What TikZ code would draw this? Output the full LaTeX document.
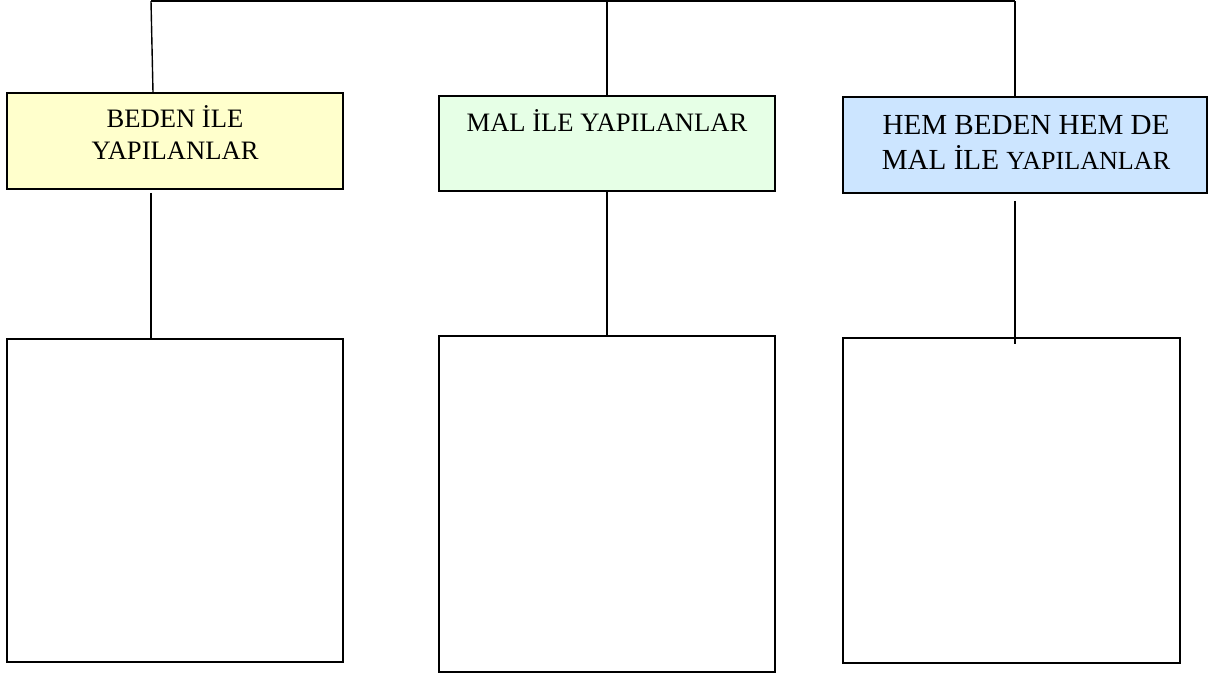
\documentclass[tikz,border=0pt]{standalone}
\usepackage{fontspec}
\setmainfont{Liberation Serif}
\definecolor{boxyellow}{HTML}{FFFFCC}
\definecolor{boxgreen}{HTML}{E6FFE6}
\definecolor{boxblue}{HTML}{CCE5FF}
\begin{document}
\begin{tikzpicture}[x=1pt,y=-1pt,
  box/.style={draw=black,line width=1.6pt,inner sep=0pt,anchor=center},
  txt/.style={inner sep=0pt,anchor=base,align=center,text=black},
  conn/.style={draw=black,line width=1.4pt}]
\useasboundingbox[fill=white] (0,0) rectangle (1211,674);
% top boxes
\node[box,fill=boxyellow,minimum width=336pt,minimum height=96pt] (b1) at (175,141) {};
\node[box,fill=boxgreen,minimum width=336pt,minimum height=95pt] (b2) at (607,143.5) {};
\node[box,fill=boxblue,minimum width=364pt,minimum height=96pt] (b3) at (1025,145) {};
% bottom boxes
\node[box,fill=white,minimum width=336pt,minimum height=323pt] (c1) at (175,500.5) {};
\node[box,fill=white,minimum width=336pt,minimum height=336pt] (c2) at (607,504) {};
\node[box,fill=white,minimum width=337pt,minimum height=325pt] (c3) at (1011.5,500.5) {};
% texts
\node[txt,font=\fontsize{26.6}{32}\selectfont] (t1a) at (175,128) {BEDEN İLE};
\node[txt,font=\fontsize{26.6}{32}\selectfont] (t1b) at (175,160) {YAPILANLAR};
\node[txt,font=\fontsize{26.6}{32}\selectfont] (t2) at (607,132) {MAL İLE YAPILANLAR};
\node[txt,font=\fontsize{29.1}{35}\selectfont] (t3a) at (1026,135) {HEM BEDEN HEM DE};
\node[txt,font=\fontsize{29.1}{35}\selectfont] (t3b) at (1026,170) {MAL İLE {\fontsize{26.1}{35}\selectfont YAPILANLAR}};
% connector coordinates
\coordinate (k1) at (151,1);
\coordinate (k2) at (607,1);
\coordinate (k3) at (1015,1);
\coordinate (d1) at (151,193);
\coordinate (d3) at (1015,201);
\coordinate (e3) at (1015,344);
% connectors
\draw[conn] (k1) -- (k3);
\draw[conn] (k1) -- ([xshift=-22pt]b1.north);
\draw[conn] (k2) -- (b2.north);
\draw[conn] (k3) -- ([xshift=-10pt]b3.north);
\draw[conn] (d1) -- (c1.north -| d1);
\draw[conn] (b2.south) -- (c2.north);
\draw[conn] (d3) -- (e3);
\end{tikzpicture}
\end{document}
